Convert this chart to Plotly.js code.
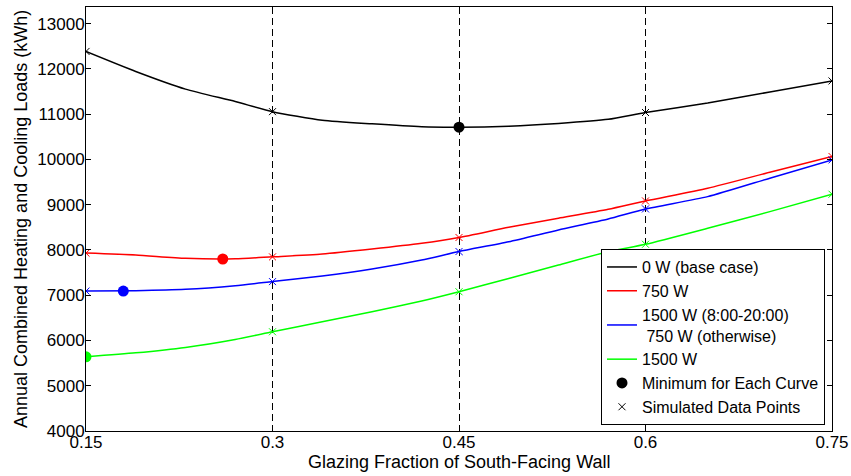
<!DOCTYPE html>
<html>
<head>
<meta charset="utf-8">
<script src="https://cdn.plot.ly/plotly-3.0.1.min.js"></script>
<style>
html,body{margin:0;padding:0;background:#fff;}
#chart{width:851px;height:476px;}
</style>
</head>
<body>
<div id="chart"></div>
<script>
// Curve samples
const curveX = [0.15,0.19,0.23,0.27,0.30,0.34,0.38,0.42,0.45,0.49,0.53,0.57,0.60,0.65,0.70,0.75];
const base0W = [12385,11943,11553,11279,11055,10865,10785,10722,10712,10735,10795,10885,11036,11244,11490,11733];
const w750 = [7930,7888,7814,7803,7847,7910,8021,8147,8275,8501,8700,8899,9083,9363,9717,10065];
const w1500day = [7092,7100,7129,7209,7300,7423,7578,7777,7965,8182,8441,8684,8906,9178,9585,9989];
const w1500 = [5638,5727,5846,6023,6192,6413,6634,6871,7076,7370,7667,7961,8125,8479,8846,9231];

// Simulated data points
const simX = [0.15,0.3,0.45,0.6,0.75];
const simBase = [12385,11055,10712,11036,11733];
const sim750 = [7930,7847,8275,9083,10065];
const sim1500day = [7092,7300,7965,8906,9989];
const sim1500 = [5638,6192,7076,8125,9231];

// Minimum of each curve
const minX = [0.45,0.26,0.18,0.15];
const minY = [10712,7800,7092,5638];

const seriesNames = ['0 W (base case)','750 W','1500 W (8:00-20:00)<br>\u00a0750 W (otherwise)','1500 W'];
const colors = ['#000000','#ff0000','#0000ff','#00ff00'];
const xTicks = [0.15,0.3,0.45,0.6,0.75];
const xTickText = ['0.15','0.3','0.45','0.6','0.75'];
const yTicks = [4000,5000,6000,7000,8000,9000,10000,11000,12000,13000];

const curves = [base0W,w750,w1500day,w1500];
const sims = [simBase,sim750,sim1500day,sim1500];

const traces = curves.map((ys,i)=>({
  x: curveX, y: ys, type:'scatter', mode:'lines', name: seriesNames[i],
  line:{color:colors[i], width:1.5, shape:'spline', smoothing:0.6}
}));

let sx=[], sy=[], sc=[];
sims.forEach((ys,i)=>{ ys.forEach((v,j)=>{ sx.push(simX[j]); sy.push(v); sc.push(colors[i]); }); });

traces.push({
  x: minX, y: minY, type:'scatter', mode:'markers', name:'Minimum for Each Curve',
  marker:{color:colors, size:11, line:{width:0}}
});
traces.push({
  x: sx, y: sy, type:'scatter', mode:'markers', name:'Simulated Data Points',
  marker:{symbol:'x-thin-open', color:sc, size:7, line:{width:1, color:sc}}
});

const font = {family:'"Liberation Sans", Arial, sans-serif', color:'#000'};

const layout = {
  width:851, height:476,
  margin:{l:86, r:19, t:7, b:45},
  paper_bgcolor:'#fff', plot_bgcolor:'#fff',
  showlegend:true,
  font: Object.assign({size:17}, font),
  xaxis:{
    range:[0.15,0.75], tickvals:xTicks, ticktext:xTickText,
    ticks:'inside', ticklen:5, tickcolor:'#000', tickwidth:1,
    showline:true, linecolor:'#000', linewidth:1, mirror:'ticks',
    showgrid:true, gridcolor:'#000', gridwidth:1, griddash:'7px,4px',
    zeroline:false, tickfont:Object.assign({size:17}, font), ticklabelstandoff:-4
  },
  yaxis:{
    range:[4000,13367], tickvals:yTicks, tickformat:'d',
    ticks:'inside', ticklen:5, tickcolor:'#000', tickwidth:1,
    showline:true, linecolor:'#000', linewidth:1, mirror:'ticks',
    showgrid:false, zeroline:false, tickfont:Object.assign({size:17}, font), ticklabelstandoff:-3
  },
  legend:{
    x:0.9906, xanchor:'right', y:0.014, yanchor:'bottom',
    bgcolor:'#fff', bordercolor:'#000', borderwidth:1,
    font:Object.assign({size:16}, font), tracegroupgap:0
  },
  annotations:[
    {text:'Glazing Fraction of South-Facing Wall', xref:'paper', yref:'paper', x:0.5, y:-0.073,
     xanchor:'center', yanchor:'middle', showarrow:false, font:Object.assign({size:18}, font)},
    {text:'Annual Combined Heating and Cooling Loads (kWh)', xref:'paper', yref:'paper', x:-0.0871, y:0.5,
     xanchor:'center', yanchor:'middle', textangle:-90, showarrow:false, font:Object.assign({size:18}, font)}
  ]
};

Plotly.newPlot('chart', traces, layout, {displayModeBar:false, staticPlot:true});
</script>
</body>
</html>
